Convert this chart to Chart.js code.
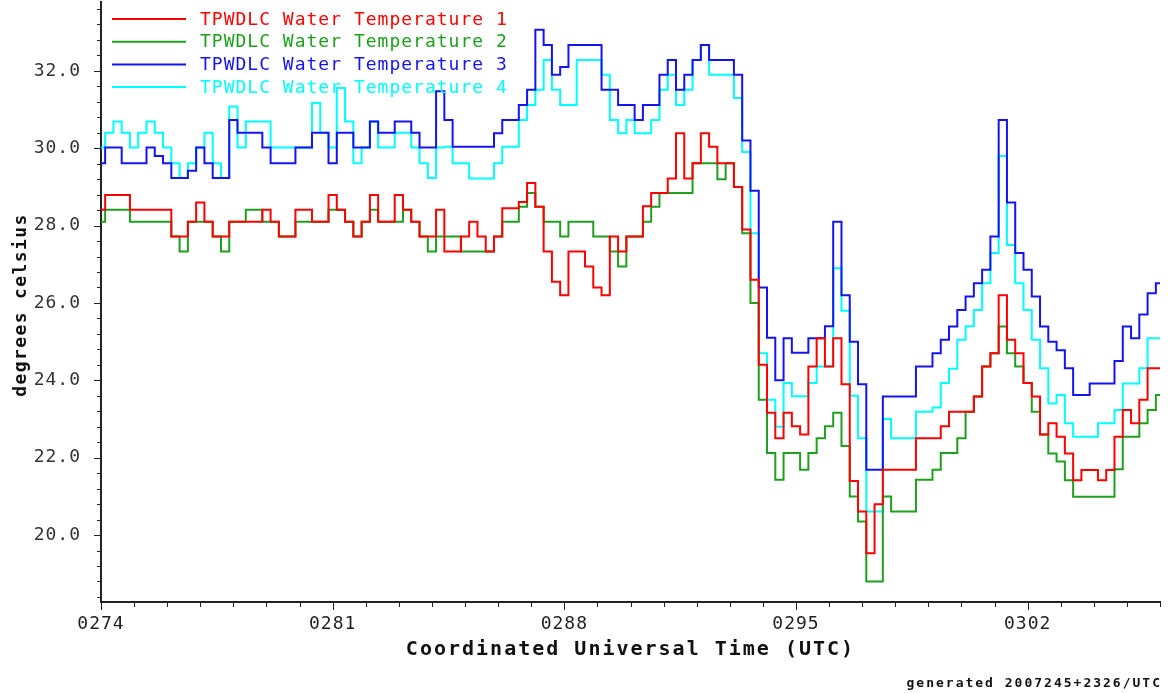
<!DOCTYPE html>
<html>
<head>
<meta charset="utf-8">
<title>TPWDLC Water Temperature</title>
<script src="https://cdn.jsdelivr.net/npm/chart.js@4.4.1/dist/chart.umd.min.js"></script>
<style>
  html, body { margin: 0; padding: 0; background: #fff; }
  #chart { display: block; }
</style>
</head>
<body>
<canvas id="chart" width="1168" height="693"></canvas>
<script>
'use strict';

// ── Data (day of year 2006, quarter-day samples) ─────────────
const days = [
  274, 274.25, 274.5, 274.75, 275, 275.25, 275.5, 275.75,
  276, 276.25, 276.5, 276.75, 277, 277.25, 277.5, 277.75,
  278, 278.25, 278.5, 278.75, 279, 279.25, 279.5, 279.75,
  280, 280.25, 280.5, 280.75, 281, 281.25, 281.5, 281.75,
  282, 282.25, 282.5, 282.75, 283, 283.25, 283.5, 283.75,
  284, 284.25, 284.5, 284.75, 285, 285.25, 285.5, 285.75,
  286, 286.25, 286.5, 286.75, 287, 287.25, 287.5, 287.75,
  288, 288.25, 288.5, 288.75, 289, 289.25, 289.5, 289.75,
  290, 290.25, 290.5, 290.75, 291, 291.25, 291.5, 291.75,
  292, 292.25, 292.5, 292.75, 293, 293.25, 293.5, 293.75,
  294, 294.25, 294.5, 294.75, 295, 295.25, 295.5, 295.75,
  296, 296.25, 296.5, 296.75, 297, 297.25, 297.5, 297.75,
  298, 298.25, 298.5, 298.75, 299, 299.25, 299.5, 299.75,
  300, 300.25, 300.5, 300.75, 301, 301.25, 301.5, 301.75,
  302, 302.25, 302.5, 302.75, 303, 303.25, 303.5, 303.75,
  304, 304.25, 304.5, 304.75, 305, 305.25, 305.5, 305.75,
  306
];

const temp1 = [
  28.41, 28.79, 28.79, 28.79, 28.41, 28.41, 28.41, 28.41,
  28.41, 27.72, 27.72, 28.10, 28.60, 28.10, 27.72, 27.72,
  28.10, 28.10, 28.10, 28.10, 28.41, 28.10, 27.72, 27.72,
  28.41, 28.41, 28.10, 28.10, 28.79, 28.41, 28.10, 27.72,
  28.10, 28.79, 28.10, 28.10, 28.79, 28.41, 28.10, 27.72,
  27.72, 28.41, 27.33, 27.33, 27.72, 28.10, 27.72, 27.33,
  27.72, 28.45, 28.45, 28.61, 29.10, 28.49, 27.33, 26.55,
  26.20, 27.33, 27.33, 26.94, 26.40, 26.20, 27.72, 27.33,
  27.72, 27.72, 28.50, 28.84, 28.84, 29.22, 30.39, 29.22,
  29.61, 30.39, 30.04, 29.61, 29.61, 29.00, 27.90, 26.60,
  24.40, 23.16, 22.50, 23.16, 22.81, 22.60, 24.36, 25.09,
  24.36, 25.09, 23.90, 21.40, 20.61, 19.53, 20.80, 21.69,
  21.69, 21.69, 21.69, 22.50, 22.50, 22.50, 22.81, 23.19,
  23.19, 23.19, 23.58, 24.36, 24.70, 26.20, 25.05, 24.70,
  23.93, 23.58, 22.60, 22.89, 22.54, 22.11, 21.42, 21.68,
  21.68, 21.42, 21.68, 22.54, 23.23, 22.89, 23.50, 24.31,
  24.31
];

const temp2 = [
  28.10, 28.41, 28.41, 28.41, 28.10, 28.10, 28.10, 28.10,
  28.10, 27.72, 27.33, 28.10, 28.10, 28.10, 27.72, 27.33,
  28.10, 28.10, 28.41, 28.41, 28.10, 28.10, 27.72, 27.72,
  28.10, 28.10, 28.10, 28.10, 28.41, 28.41, 28.10, 27.72,
  28.10, 28.41, 28.10, 28.10, 28.10, 28.41, 28.10, 27.72,
  27.33, 27.72, 27.72, 27.72, 27.33, 27.33, 27.33, 27.33,
  27.72, 28.10, 28.10, 28.49, 28.84, 28.49, 28.10, 28.10,
  27.72, 28.10, 28.10, 28.10, 27.72, 27.72, 27.33, 26.94,
  27.72, 27.72, 28.10, 28.49, 28.84, 28.84, 28.84, 28.84,
  29.61, 29.61, 29.61, 29.20, 29.61, 29.00, 27.80, 26.00,
  23.50, 22.12, 21.43, 22.12, 22.12, 21.69, 22.12, 22.50,
  22.81, 23.16, 22.30, 21.00, 20.35, 18.80, 18.80, 21.00,
  20.61, 20.61, 20.61, 21.43, 21.43, 21.69, 22.12, 22.12,
  22.50, 23.19, 23.58, 24.36, 24.70, 25.39, 24.70, 24.36,
  23.93, 23.19, 22.60, 22.11, 21.90, 21.42, 20.99, 20.99,
  20.99, 20.99, 20.99, 21.70, 22.54, 22.54, 22.89, 23.23,
  23.62
];

const temp3 = [
  29.61, 30.02, 30.02, 29.61, 29.61, 29.61, 30.02, 29.80,
  29.61, 29.23, 29.23, 29.42, 30.02, 29.61, 29.23, 29.23,
  30.73, 30.40, 30.40, 30.40, 30.02, 29.61, 29.61, 29.61,
  30.02, 30.02, 30.40, 30.40, 29.61, 30.40, 30.40, 30.02,
  30.02, 30.69, 30.40, 30.40, 30.69, 30.69, 30.40, 30.02,
  30.02, 31.47, 30.73, 30.04, 30.04, 30.04, 30.04, 30.04,
  30.39, 30.73, 30.73, 31.12, 31.51, 33.06, 32.67, 31.90,
  32.10, 32.67, 32.67, 32.67, 32.67, 31.51, 31.51, 31.12,
  31.12, 30.73, 31.12, 31.12, 31.90, 32.28, 31.51, 31.90,
  32.28, 32.67, 32.28, 32.28, 32.28, 31.90, 30.20, 28.90,
  26.40, 25.10, 24.00, 25.09, 24.71, 24.71, 25.09, 25.09,
  25.40, 28.10, 26.20, 25.00, 23.90, 21.69, 21.69, 23.58,
  23.58, 23.58, 23.58, 24.36, 24.36, 24.70, 25.05, 25.39,
  25.82, 26.17, 26.51, 26.86, 27.72, 30.73, 28.60, 27.29,
  26.86, 26.17, 25.39, 25.00, 24.78, 24.31, 23.62, 23.62,
  23.92, 23.92, 23.92, 24.50, 25.39, 25.09, 25.70, 26.25,
  26.51
];

const temp4 = [
  30.02, 30.40, 30.69, 30.40, 30.02, 30.40, 30.69, 30.40,
  30.02, 29.61, 29.23, 29.61, 30.02, 30.40, 29.61, 29.23,
  31.08, 30.02, 30.69, 30.69, 30.69, 30.02, 30.02, 30.02,
  30.02, 30.02, 31.17, 30.40, 30.02, 31.56, 30.69, 29.61,
  30.02, 30.69, 30.02, 30.02, 30.40, 30.40, 30.02, 29.61,
  29.23, 30.02, 30.04, 29.61, 29.61, 29.22, 29.22, 29.22,
  29.61, 30.04, 30.04, 30.73, 31.12, 31.51, 32.28, 31.51,
  31.12, 31.12, 32.28, 32.28, 32.28, 31.90, 30.73, 30.39,
  30.73, 30.39, 30.39, 30.73, 31.51, 31.90, 31.12, 31.51,
  32.28, 32.67, 31.90, 31.90, 31.90, 31.30, 29.90, 27.80,
  24.70, 23.50, 22.80, 23.93, 23.59, 23.59, 23.93, 24.36,
  24.36, 26.90, 25.80, 23.60, 22.50, 20.61, 20.61, 23.00,
  22.50, 22.50, 22.50, 23.19, 23.19, 23.30, 23.93, 24.30,
  25.05, 25.40, 25.82, 26.51, 27.29, 29.80, 27.50, 26.51,
  25.82, 25.05, 24.31, 23.40, 23.62, 22.89, 22.54, 22.54,
  22.54, 22.89, 22.89, 23.23, 23.92, 23.92, 24.31, 25.09,
  25.09
];

const seriesLabels = [
  'TPWDLC Water Temperature 1',
  'TPWDLC Water Temperature 2',
  'TPWDLC Water Temperature 3',
  'TPWDLC Water Temperature 4'
];
const seriesColors = ['#ff0000', '#1ea01e', '#1414f0', '#00ffff'];

// ── Axis config ──────────────────────────────────────────────
const X_MIN = 274;
const X_MAX = 306;
const Y_MIN = 18.27;
const Y_MAX = 33.78;
const MONO  = '"DejaVu Sans Mono", "Liberation Mono", monospace';

function isMajorY(v) {
  return Math.abs(v / 2 - Math.round(v / 2)) < 1e-6;
}

// ── Extra drawing: tick marks, legend, titles ────────────────
const decorPlugin = {
  id: 'decor',
  beforeDraw(chart) {
    // wider glyph spacing for the tick labels drawn by the scales
    chart.ctx.letterSpacing = '1px';
  },
  afterDraw(chart) {
    const { ctx, chartArea, scales } = chart;
    const xs = scales.x;
    const ys = scales.y;

    ctx.save();
    ctx.strokeStyle = '#222';
    ctx.lineWidth = 1;
    ctx.beginPath();
    xs.ticks.forEach(t => {
      const px = Math.round(xs.getPixelForValue(t.value)) + 0.5;
      const len = (t.value - X_MIN) % 7 === 0 ? 8 : 5;
      ctx.moveTo(px, chartArea.bottom);
      ctx.lineTo(px, chartArea.bottom + len);
    });
    ys.ticks.forEach(t => {
      const py = Math.round(ys.getPixelForValue(t.value)) + 0.5;
      const len = isMajorY(t.value) ? 7 : 4;
      ctx.moveTo(chartArea.left, py);
      ctx.lineTo(chartArea.left - len, py);
    });
    ctx.stroke();

    // legend inside plot, top-left
    ctx.font = '18px ' + MONO;
    ctx.letterSpacing = '1px';
    ctx.textBaseline = 'middle';
    ctx.textAlign = 'left';
    chart.data.datasets.forEach((ds, i) => {
      const y = 19 + i * 22.7;
      ctx.strokeStyle = ds.borderColor;
      ctx.lineWidth = 2;
      ctx.beginPath();
      ctx.moveTo(112, y);
      ctx.lineTo(186, y);
      ctx.stroke();
      ctx.fillStyle = ds.borderColor;
      ctx.fillText(ds.label, 200, y + 1);
    });

    // axis titles
    ctx.fillStyle = '#111';
    ctx.font = 'bold 20px ' + MONO;
    ctx.letterSpacing = '2px';
    ctx.textAlign = 'center';
    ctx.fillText('Coordinated Universal Time (UTC)', (chartArea.left + chartArea.right) / 2, 650);

    ctx.save();
    ctx.translate(21, 305);
    ctx.rotate(-Math.PI / 2);
    ctx.font = 'bold 18px ' + MONO;
    ctx.letterSpacing = '1.4px';
    ctx.fillText('degrees celsius', 0, 0);
    ctx.restore();

    ctx.font = 'bold 13px ' + MONO;
    ctx.letterSpacing = '2px';
    ctx.textAlign = 'right';
    ctx.fillText('generated 2007245+2326/UTC', 1162, 684);
    ctx.restore();
  }
};

// ── Chart ────────────────────────────────────────────────────
const seriesValues = [temp1, temp2, temp3, temp4];

const datasets = seriesValues.map((vals, i) => ({
  label: seriesLabels[i],
  data: days.map((d, k) => ({ x: d, y: vals[k] })),
  borderColor: seriesColors[i],
  borderWidth: 2,
  pointRadius: 0,
  stepped: 'middle',
  fill: false
}));

new Chart(document.getElementById('chart').getContext('2d'), {
  type: 'line',
  data: { datasets },
  options: {
    responsive: false,
    animation: false,
    devicePixelRatio: 1,
    layout: { padding: { left: 0, right: 8, top: 2, bottom: 0 } },
    plugins: {
      legend:  { display: false },
      tooltip: { enabled: false }
    },
    scales: {
      x: {
        type: 'linear',
        min: X_MIN,
        max: X_MAX,
        afterFit: s => { s.height = 91; s.paddingLeft = 0; s.paddingRight = 0; },
        grid:   { display: false },
        border: { display: true, color: '#222', width: 2 },
        ticks: {
          stepSize: 1,
          autoSkip: false,
          maxRotation: 0,
          minRotation: 0,
          padding: 4,
          color: '#222',
          font: { family: MONO, size: 18 },
          callback: v => ((v - X_MIN) % 7 === 0 ? '0' + v : '')
        }
      },
      y: {
        min: Y_MIN,
        max: Y_MAX,
        afterFit: s => { s.width = 101; s.paddingTop = 0; s.paddingBottom = 0; },
        grid:   { display: false },
        border: { display: true, color: '#222', width: 2 },
        ticks: {
          stepSize: 0.4,
          includeBounds: false,
          autoSkip: false,
          padding: 12,
          color: '#333',
          font: { family: MONO, size: 18 },
          callback: v => (isMajorY(v) ? v.toFixed(1) : '')
        }
      }
    }
  },
  plugins: [decorPlugin]
});
</script>
</body>
</html>
